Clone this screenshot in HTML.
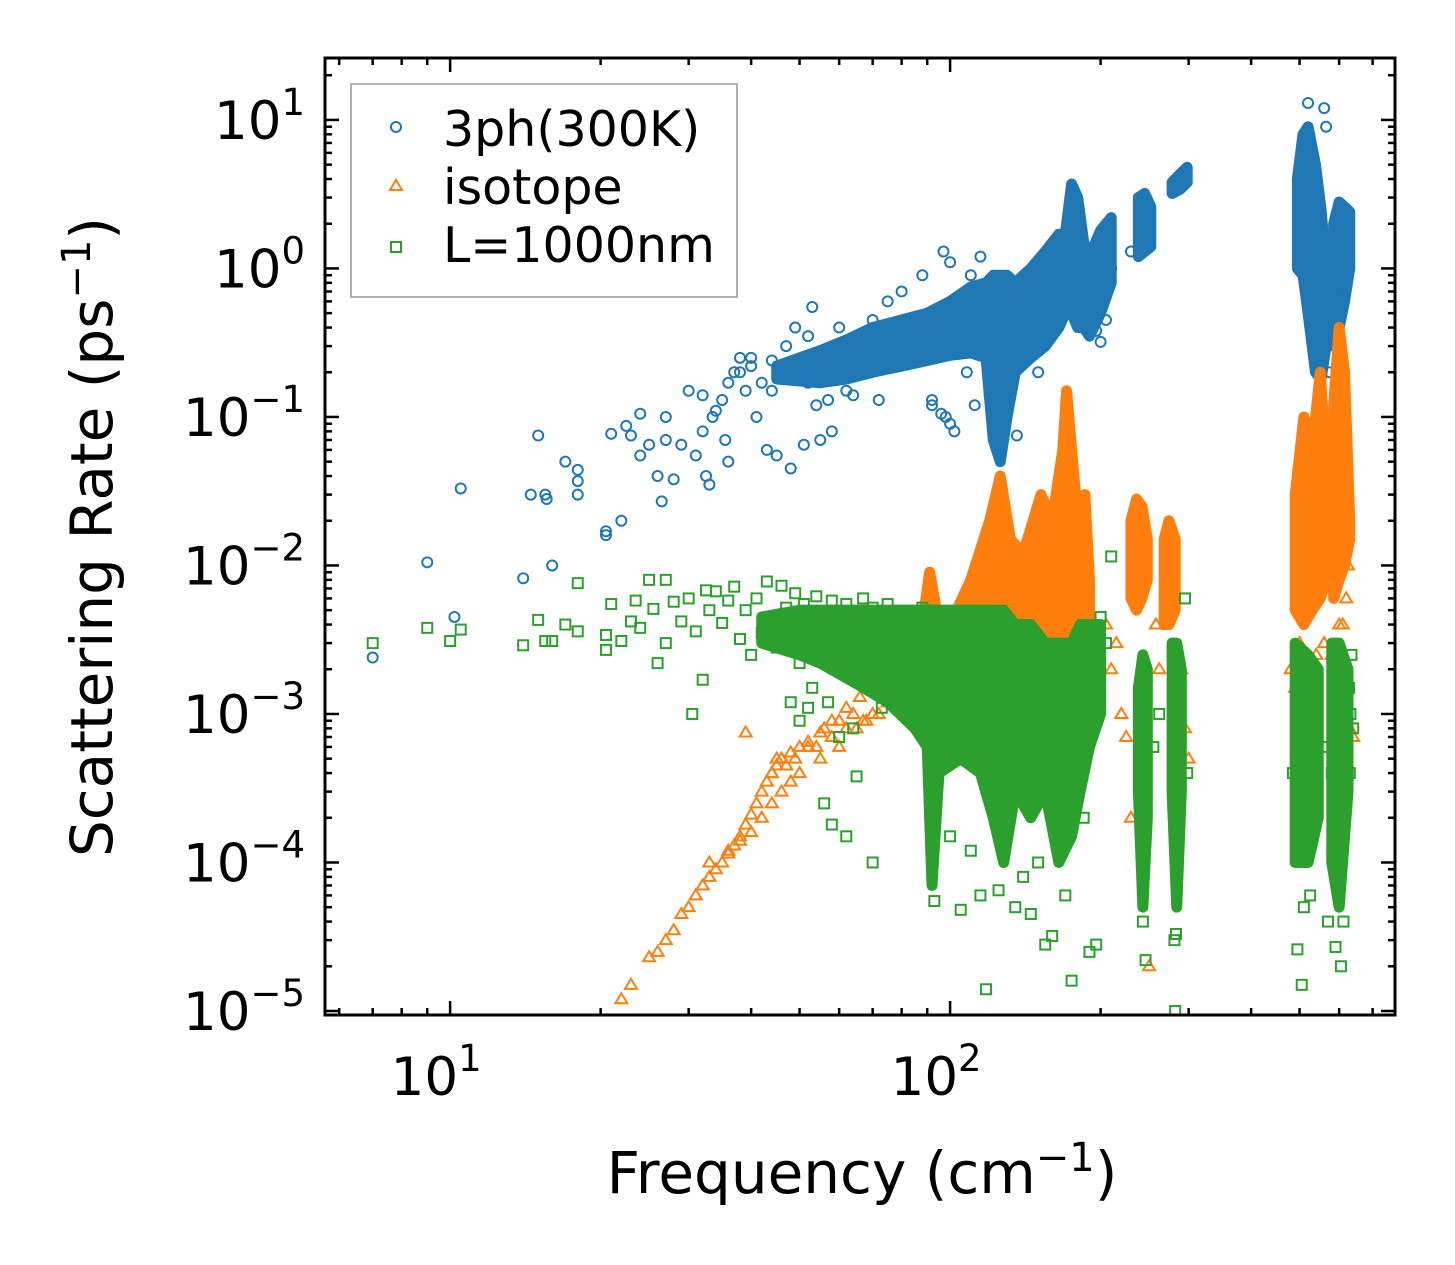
<!DOCTYPE html>
<html><head><meta charset="utf-8"><style>
html,body{margin:0;padding:0;background:#fff;}
svg{display:block;font-family:"DejaVu Sans","Liberation Sans",sans-serif;}
</style></head><body>
<svg id="chart" width="1455" height="1265" viewBox="0 0 1455 1265" xmlns="http://www.w3.org/2000/svg">
<rect x="0" y="0" width="1455" height="1265" fill="#fff"/>
<g id="marks"></g>
<g id="axes"></g>
<rect x="325" y="58" width="1070" height="957" fill="none" stroke="#000" stroke-width="3"/>
<g>
<rect x="351" y="84" width="386" height="213" fill="#fff" stroke="#999" stroke-width="1.5"/>
<circle cx="396" cy="127" r="5" fill="none" stroke="#1f77b4" stroke-width="2"/>
<text x="443" y="146" font-size="49">3ph(300K)</text>
<polygon points="396,180 402,190 390,190" fill="none" stroke="#ff7f0e" stroke-width="2"/>
<text x="443" y="204" font-size="49">isotope</text>
<rect x="391" y="242" width="10" height="10" fill="none" stroke="#2ca02c" stroke-width="2"/>
<text x="443" y="262" font-size="49">L=1000nm</text>
</g>
<text x="862" y="1193" font-size="58" text-anchor="middle">Frequency (cm<tspan dy="-22" font-size="40">−1</tspan><tspan dy="22">)</tspan></text>
<text transform="translate(112,537) rotate(-90)" font-size="58" text-anchor="middle">Scattering Rate (ps<tspan dy="-22" font-size="40">−1</tspan><tspan dy="22">)</tspan></text>
</svg>
<script>
const xTickExps = [1, 2];
const yTickExps = [1, 0, -1, -2, -3, -4, -5];
// dense regions: [freq, lowRate, highRate]
const blueDenseMain = [[45,0.18,0.22],[55,0.17,0.28],[62,0.18,0.33],[70,0.2,0.4],[80,0.22,0.45],[90,0.24,0.5],[100,0.26,0.6],[110,0.27,0.75],[118,0.25,0.8],[122,0.07,0.9],[126,0.05,0.9],[130,0.1,0.9],[135,0.2,0.8],[145,0.25,1.0],[155,0.3,1.3],[165,0.4,1.7],[170,0.5,1.7],[175,0.5,3.7],[180,0.4,3.0],[185,0.4,1.5],[190,0.35,1.2],[200,0.5,1.8],[210,0.8,2.2]];
const blueDenseB = [[238,1.2,3.0],[245,1.3,3.2],[252,1.4,2.6]];
const blueDenseC = [[278,3.2,3.8],[288,3.4,4.3],[298,3.8,4.8]];
const blueDenseD = [[495,1.0,4],[508,0.9,8],[520,0.5,9],[538,0.2,5],[552,0.18,2.5],[565,0.3,1.0]];
const blueDenseE = [[585,0.3,2.0],[600,0.4,2.8],[615,0.6,2.6],[630,1.0,2.4]];
const orangeDenseMain = [[80,0.0012,0.002],[88,0.0015,0.004],[91,0.002,0.009],[95,0.002,0.004],[100,0.002,0.004],[110,0.0025,0.008],[120,0.003,0.02],[126,0.003,0.04],[132,0.003,0.015],[140,0.003,0.012],[152,0.003,0.03],[160,0.003,0.02],[168,0.003,0.06],[171,0.004,0.15],[175,0.004,0.06],[180,0.003,0.02],[186,0.003,0.03],[190,0.003,0.008]];
const orangeDenseB = [[230,0.006,0.02],[236,0.005,0.028],[242,0.006,0.025],[248,0.008,0.015]];
const orangeDenseC = [[268,0.004,0.015],[274,0.004,0.02],[282,0.005,0.015]];
const orangeDenseD = [[490,0.005,0.03],[510,0.004,0.1],[530,0.005,0.06],[550,0.006,0.2],[565,0.008,0.05]];
const orangeDenseE = [[585,0.006,0.12],[600,0.008,0.4],[615,0.01,0.2],[630,0.015,0.02]];
const greenDenseMain = [[42,0.003,0.0045],[50,0.0025,0.005],[55,0.0022,0.005],[65,0.0016,0.005],[75,0.0012,0.005],[85,0.0008,0.005],[90,0.0006,0.005],[92,0.00007,0.005],[95,0.0004,0.005],[105,0.0005,0.005],[115,0.0004,0.005],[122,0.0002,0.005],[128,0.0001,0.005],[135,0.0003,0.004],[145,0.0002,0.004],[155,0.0003,0.003],[165,0.0001,0.003],[175,0.00015,0.003],[182,0.0003,0.004],[190,0.0006,0.004],[200,0.001,0.004]];
const greenDenseB = [[238,0.0003,0.0015],[243,0.00005,0.0025],[248,0.0002,0.002]];
const greenDenseC = [[278,0.0003,0.003],[284,0.00005,0.003],[290,0.0003,0.002]];
const greenDenseD = [[490,0.0001,0.003],[520,0.0001,0.0025],[545,0.0002,0.002]];
const greenDenseE = [[580,0.0001,0.003],[600,0.00005,0.003],[625,0.0003,0.002]];
const threePh = [[7,0.0024],[9,0.0105],[10.2,0.0045],[10.5,0.033],[14,0.0082],[14.5,0.03],[15,0.075],[15.5,0.03],[15.6,0.028],[16,0.01],[17,0.05],[18,0.044],[18,0.037],[18,0.03],[20.5,0.017],[20.5,0.016],[21,0.077],[22,0.02],[22.5,0.087],[23,0.075],[24,0.105],[24,0.055],[25,0.065],[26,0.04],[26.5,0.027],[27,0.1],[27,0.07],[28,0.038],[29,0.065],[30,0.15],[31,0.055],[32,0.14],[32,0.08],[32.5,0.04],[33,0.035],[33.5,0.1],[34,0.11],[35,0.13],[35.5,0.07],[36,0.17],[36,0.05],[37,0.2],[38,0.25],[39,0.15],[40,0.22],[41,0.1],[42,0.17],[43,0.06],[44,0.24],[45,0.055],[46,0.2],[47,0.3],[48,0.045],[49,0.4],[50,0.2],[51,0.065],[52,0.35],[53,0.55],[54,0.12],[55,0.07],[56,0.25],[58,0.08],[60,0.3],[62,0.15],[65,0.35],[68,0.2],[70,0.45],[72,0.13],[75,0.6],[78,0.3],[80,0.7],[82,0.25],[85,0.4],[88,0.9],[90,0.35],[92,0.12],[95,0.5],[97,1.3],[98,0.1],[100,1.1],[102,0.08],[105,0.6],[108,0.2],[110,0.9],[112,0.12],[115,1.2],[118,0.3],[136,0.075],[100,0.09],[96,0.105],[92,0.13],[120,0.14],[150,0.2],[230,1.3],[210,1.0],[200,0.32],[205,0.45],[196,0.38],[520,13],[560,12],[565,9],[575,0.2],[585,1.5],[615,2.5],[40,0.25],[38,0.2],[60,0.4],[70,0.25],[44,0.15],[52,0.17],[57,0.13],[64,0.14]];
const isotope = [[22,1.2e-5],[23,1.5e-5],[25,2.3e-5],[26,2.5e-5],[27,3e-5],[28,3.5e-5],[29,4.5e-5],[30,5e-5],[31,6e-5],[32,7e-5],[33,8e-5],[34,9e-5],[35,1e-4],[36,1.15e-4],[37,1.3e-4],[38,1.5e-4],[39,1.8e-4],[40,2.1e-4],[41,2.5e-4],[42,3e-4],[43,3.5e-4],[44,4e-4],[45,4.5e-4],[46,5e-4],[48,5.5e-4],[50,6e-4],[52,6.5e-4],[55,7.5e-4],[58,9e-4],[62,1.1e-3],[66,1.3e-3],[70,1.5e-3],[33,1e-4],[36,1.2e-4],[38,1.4e-4],[40,1.6e-4],[42,2e-4],[44,2.5e-4],[46,3e-4],[48,3.5e-4],[50,4e-4],[55,5e-4],[60,6e-4],[65,8e-4],[70,1e-3],[75,1.2e-3],[80,1.4e-3],[85,1.8e-3],[39,0.00075],[45,0.0005],[47,0.00045],[52,0.0006],[56,0.0008],[60,0.0009],[64,0.001],[68,0.0009],[72,0.001],[76,0.0012],[200,0.002],[205,0.004],[210,0.002],[220,0.001],[195,0.0015],[215,0.003],[225,0.0007],[258,0.004],[262,0.002],[290,0.002],[295,0.0008],[300,0.0005],[230,0.0002],[250,2e-5],[480,0.002],[490,0.0015],[500,0.003],[520,0.002],[540,0.0025],[560,0.003],[580,0.0025],[600,0.004],[620,0.006],[630,0.0008],[640,0.0007],[625,0.01],[610,0.004],[44,0.0004],[49,0.0005],[54,0.0006],[58,0.0007],[62,0.0008],[67,0.0009]];
const boundary = [[7,0.003],[9,0.0038],[10,0.0031],[10.5,0.0037],[14,0.0029],[15,0.0043],[15.5,0.0031],[16,0.0031],[17,0.004],[18,0.0036],[18,0.0076],[20.5,0.0027],[20.5,0.0034],[21,0.0055],[22,0.0031],[23,0.0042],[23.5,0.0058],[24,0.0038],[25,0.008],[25.5,0.0051],[26,0.0022],[27,0.008],[27,0.003],[28,0.0057],[29,0.0042],[30,0.006],[30.5,0.001],[31,0.0036],[32,0.0017],[32.5,0.0068],[33,0.005],[34,0.0067],[35,0.0041],[36,0.0058],[37,0.0072],[38,0.0032],[39,0.005],[40,0.0025],[41,0.006],[42,0.0035],[43,0.0078],[44,0.0045],[45,0.0028],[46,0.0073],[47,0.0052],[48,0.0038],[49,0.0065],[50,0.0022],[51,0.0055],[52,0.0042],[53,0.0015],[54,0.0062],[55,0.0035],[56,0.0048],[57,0.0012],[58,0.0058],[59,0.003],[60,0.0045],[61,0.002],[62,0.0055],[63,0.0032],[64,0.0008],[65,0.0048],[66,0.0025],[67,0.006],[68,0.0038],[69,0.0015],[70,0.0052],[71,0.0028],[72,0.0045],[73,0.0011],[74,0.0035],[75,0.0055],[76,0.002],[77,0.0042],[78,0.0012],[79,0.0032],[80,0.0048],[82,0.0022],[84,0.0038],[86,0.0015],[88,0.0052],[90,0.003],[56,0.00025],[58,0.00018],[62,0.00015],[65,0.00038],[70,0.0001],[60,0.0007],[48,0.0012],[50,0.0009],[52,0.0011],
[105,4.8e-5],[115,6e-5],[125,6.5e-5],[135,5e-5],[145,4.5e-5],[155,2.8e-5],[160,3.2e-5],[175,1.6e-5],[190,2.5e-5],[196,2.8e-5],[210,0.0115],[118,1.4e-5],[93,5.5e-5],[100,0.00015],[110,0.00012],[140,0.00008],[150,0.0001],[170,0.00006],[185,0.0002],[200,0.0045],[205,0.003],
[243,4e-5],[246,2.2e-5],[255,0.0006],[262,0.001],[281,3e-5],[282,1e-5],[283,3.3e-5],[295,0.006],[298,0.0004],[485,0.0004],[495,2.6e-5],[505,1.5e-5],[525,6e-5],[560,0.0006],[570,4e-5],[580,0.0004],[590,2.7e-5],[605,2e-5],[612,4e-5],[630,0.0004],[640,0.0008],[632,0.001],[628,0.0015],[635,0.0025],[510,0.00005]];

const PL=325, PR=1395, PT=58, PB=1015;
const xMinL=Math.log10(5.62), xMaxL=Math.log10(776);
const yMinL=-5.027, yMaxL=1.417;
function xs(v){return PL+(Math.log10(v)-xMinL)/(xMaxL-xMinL)*(PR-PL);}
function ys(v){return PB-(Math.log10(v)-yMinL)/(yMaxL-yMinL)*(PB-PT);}
const NS='http://www.w3.org/2000/svg';
const marks=document.getElementById('marks');
const axes=document.getElementById('axes');
function mk(tag,attrs,parent){const e=document.createElementNS(NS,tag);for(const k in attrs)e.setAttribute(k,attrs[k]);parent.appendChild(e);return e;}
const clipDefs=mk('defs',{},marks);
const cp=mk('clipPath',{id:'pc'},clipDefs);
mk('rect',{x:PL,y:PT,width:PR-PL,height:PB-PT},cp);
function band(arr,color,parent){
  const up=arr.map(p=>xs(p[0])+','+ys(p[2]));
  const dn=arr.slice().reverse().map(p=>xs(p[0])+','+ys(p[1]));
  const poly=mk('polygon',{points:up.concat(dn).join(' '),fill:color,stroke:color,'stroke-width':11,'stroke-linejoin':'round'},parent);
  
  
}
const gB=mk('g',{'clip-path':'url(#pc)',fill:'none',stroke:'#1f77b4','stroke-width':2},marks);


const gO=mk('g',{'clip-path':'url(#pc)',fill:'none',stroke:'#ff7f0e','stroke-width':2},marks);


const gG=mk('g',{'clip-path':'url(#pc)',fill:'none',stroke:'#2ca02c','stroke-width':2},marks);


[blueDenseMain,blueDenseB,blueDenseC,blueDenseD,blueDenseE].forEach(a=>band(a,'#1f77b4',gB));
[orangeDenseMain,orangeDenseB,orangeDenseC,orangeDenseD,orangeDenseE].forEach(a=>band(a,'#ff7f0e',gO));
[greenDenseMain,greenDenseB,greenDenseC,greenDenseD,greenDenseE].forEach(a=>band(a,'#2ca02c',gG));
threePh.forEach(p=>{const c=mk('circle',{cx:xs(p[0]),cy:ys(p[1]),r:5},gB);

});
isotope.forEach(p=>{const x=xs(p[0]),y=ys(p[1]);const t=mk('polygon',{points:`${x},${y-6} ${x+6},${y+4} ${x-6},${y+4}`},gO);

});
boundary.forEach(p=>{const r=mk('rect',{x:xs(p[0])-5,y:ys(p[1])-5,width:10,height:10},gG);

});
// ticks
function tick(x1,y1,x2,y2){mk('line',{x1,y1,x2,y2,stroke:'#000','stroke-width':2.5},axes);}
for(let e=0;e<=2;e++){for(let m=1;m<10;m++){const v=m*Math.pow(10,e);if(v<5.62||v>776)continue;const x=xs(v);const L=m===1?14:7;tick(x,PB,x,PB-L);tick(x,PT,x,PT+L);}}
for(let e=-6;e<=1;e++){for(let m=1;m<10;m++){const v=m*Math.pow(10,e);const l=Math.log10(v);if(l<yMinL||l>yMaxL)continue;const y=ys(v);const L=m===1?14:7;tick(PL,y,PL+L,y);tick(PR,y,PR-L,y);}}
xTickExps.forEach(e=>{const t=mk('text',{x:xs(Math.pow(10,e))-14,y:1095,'font-size':53,'text-anchor':'middle'},axes);


t.innerHTML='10<tspan dy="-24" font-size="37">'+e+'</tspan>';});
yTickExps.forEach(e=>{const t=mk('text',{x:305,y:ys(Math.pow(10,e))+19,'font-size':53,'text-anchor':'end'},axes);


t.innerHTML='10<tspan dy="-24" font-size="37">'+(e<0?'−'+(-e):e)+'</tspan>';});
</script>
</body></html>
